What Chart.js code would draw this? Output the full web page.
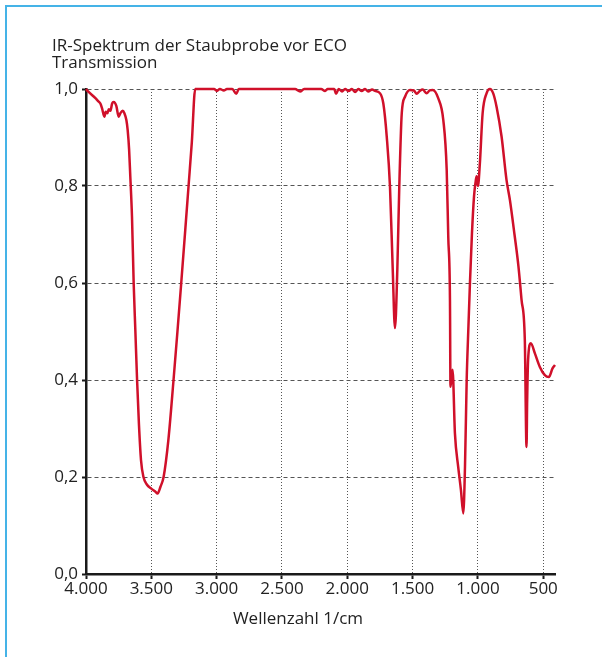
<!DOCTYPE html>
<html>
<head>
<meta charset="utf-8">
<script src="https://cdn.jsdelivr.net/npm/chart.js@4.4.1/dist/chart.umd.min.js"></script>
<style>
    body { margin: 0; background: #fff; }
    #rahmen { position: absolute; left: 5px; top: 5px; width: 597px; height: 652px; border-left: 2px solid #45b3e7; border-top: 2px solid #45b3e7; }
    #spektrum { position: absolute; left: 0; top: 0; }
</style>
</head>
<body>
<div id="rahmen"></div>
<canvas id="spektrum" width="602" height="657"></canvas>
<script>

var wellenzahl = [4000, 3984, 3928, 3911, 3890, 3877, 3859, 3849, 3836, 3826, 3813, 3800, 3788, 3768, 3750, 3737, 3719, 3706, 3691, 3681,
    3670, 3661, 3648, 3635, 3622, 3609, 3595, 3579, 3560, 3533, 3500, 3470, 3452, 3430, 3406, 3370, 3330, 3300, 3271, 3240,
    3215, 3190, 3164, 3100, 3020, 2998, 2975, 2945, 2921, 2880, 2850, 2830, 2400, 2361, 2330, 2200, 2170, 2150, 2100, 2086,
    2065, 2040, 2017, 1990, 1965, 1940, 1915, 1890, 1864, 1840, 1810, 1788, 1749, 1724, 1698, 1673, 1652, 1635, 1617, 1602,
    1583, 1558, 1520, 1490, 1469, 1445, 1423, 1392, 1370, 1346, 1304, 1265, 1239, 1227, 1214, 1210, 1194, 1176, 1151, 1130,
    1112, 1099, 1086, 1074, 1061, 1046, 1030, 1017, 1010, 1000, 985, 964, 934, 908, 883, 857, 819, 781, 755, 720,
    690, 666, 641, 628, 623, 616, 595, 564, 526, 488, 457, 429, 410];

var transmission = [1.0, 0.995, 0.981, 0.976, 0.970, 0.960, 0.943, 0.953, 0.950, 0.958, 0.955, 0.970, 0.973, 0.965, 0.943, 0.950, 0.955, 0.950, 0.936, 0.915,
    0.875, 0.82, 0.737, 0.599, 0.50, 0.40, 0.31, 0.235, 0.20, 0.184, 0.176, 0.170, 0.166, 0.18, 0.20, 0.275, 0.40, 0.50, 0.60, 0.71,
    0.80, 0.89, 1.0, 1.0, 1.0, 0.996, 1.0, 0.997, 1.0, 1.0, 0.99, 1.0, 1.0, 0.995, 1.0, 1.0, 0.996, 1.0, 1.0, 0.99,
    1.0, 0.995, 1.0, 0.996, 1.0, 0.994, 1.0, 0.996, 1.0, 0.995, 0.999, 0.996, 0.991, 0.970, 0.902, 0.798, 0.627, 0.507, 0.627, 0.798,
    0.950, 0.984, 0.998, 0.997, 0.990, 0.996, 0.999, 0.991, 0.997, 0.998, 0.981, 0.936, 0.833, 0.695, 0.565, 0.386, 0.421, 0.29, 0.221, 0.173,
    0.125, 0.221, 0.40, 0.50, 0.60, 0.70, 0.778, 0.81, 0.82, 0.80, 0.847, 0.95, 0.991, 1.0, 0.991, 0.963, 0.902, 0.812, 0.771, 0.70,
    0.635, 0.565, 0.482, 0.262, 0.359, 0.441, 0.476, 0.455, 0.427, 0.41, 0.406, 0.424, 0.431];

var xTicks = [4000, 3500, 3000, 2500, 2000, 1500, 1000, 500];
var yTicks = [0, 0.2, 0.4, 0.6, 0.8, 1.0];

var titel = ["IR-Spektrum der Staubprobe vor ECO", "Transmission"];
var xTitel = "Wellenzahl 1/cm";

var schrift = "'Open Sans', sans-serif";
var textFarbe = '#222';

var punkte = [];
for (var i = 0; i < wellenzahl.length; i++) {
    punkte.push({ x: wellenzahl[i], y: transmission[i] });
}

// Titel und Achsenbeschriftung direkt auf die Leinwand
var texte = {
    id: 'texte',
    afterDraw: function (chart) {
        var ctx = chart.ctx;
        ctx.save();
        ctx.fillStyle = textFarbe;
        ctx.font = "17px " + schrift;
        ctx.textBaseline = 'middle';
        ctx.textAlign = 'left';
        ctx.fillText(titel[0], 52, 46);
        ctx.fillText(titel[1], 52, 63);
        ctx.textAlign = 'center';
        ctx.fillText(xTitel, 298, 619);
        ctx.restore();
    }
};

var ctx = document.getElementById('spektrum').getContext('2d');
var spektrumChart = new Chart(ctx, {
    type: 'line',
    data: {
        datasets: [{
            data: punkte,
            borderColor: 'rgb(208, 16, 42)',
            borderWidth: 2.5,
            pointRadius: 0,
            fill: false,
            cubicInterpolationMode: 'monotone',
            clip: 6
        }]
    },
    options: {
        responsive: false,
        animation: false,
        events: [],
        layout: {
            padding: { top: 89, right: 47, left: 0, bottom: 0 }
        },
        plugins: {
            legend: { display: false },
            tooltip: { enabled: false }
        },
        scales: {
            x: {
                type: 'linear',
                reverse: true,
                min: 410,
                max: 4000,
                afterBuildTicks: function (scale) {
                    scale.ticks = xTicks.map(function (v) { return { value: v }; });
                },
                afterFit: function (scale) {
                    scale.height = 83;
                },
                border: { display: true, color: '#1a1a1a', width: 2.5, dash: [1, 2] },
                grid: {
                    color: '#555',
                    lineWidth: 1,
                    drawTicks: true,
                    tickLength: 5,
                    tickColor: '#1a1a1a',
                    tickWidth: 2,
                    tickBorderDash: []
                },
                ticks: {
                    color: textFarbe,
                    font: { family: schrift, size: 17 },
                    padding: 0,
                    maxRotation: 0,
                    autoSkip: false,
                    callback: function (v) {
                        return v >= 1000 ? Math.floor(v / 1000) + '.' + ('00' + (v % 1000)).slice(-3) : String(v);
                    }
                }
            },
            y: {
                min: 0,
                max: 1,
                afterBuildTicks: function (scale) {
                    scale.ticks = yTicks.map(function (v) { return { value: v }; });
                },
                afterFit: function (scale) {
                    scale.width = 86;
                },
                border: { display: true, color: '#1a1a1a', width: 2.5, dash: [4, 3] },
                grid: {
                    color: '#555',
                    lineWidth: 1,
                    drawTicks: true,
                    tickLength: 4,
                    tickColor: '#1a1a1a',
                    tickWidth: 2,
                    tickBorderDash: []
                },
                ticks: {
                    color: textFarbe,
                    font: { family: schrift, size: 17 },
                    padding: 4,
                    callback: function (v) {
                        return v.toFixed(1).replace('.', ',');
                    }
                }
            }
        }
    },
    plugins: [texte]
});

</script>
</body>
</html>
